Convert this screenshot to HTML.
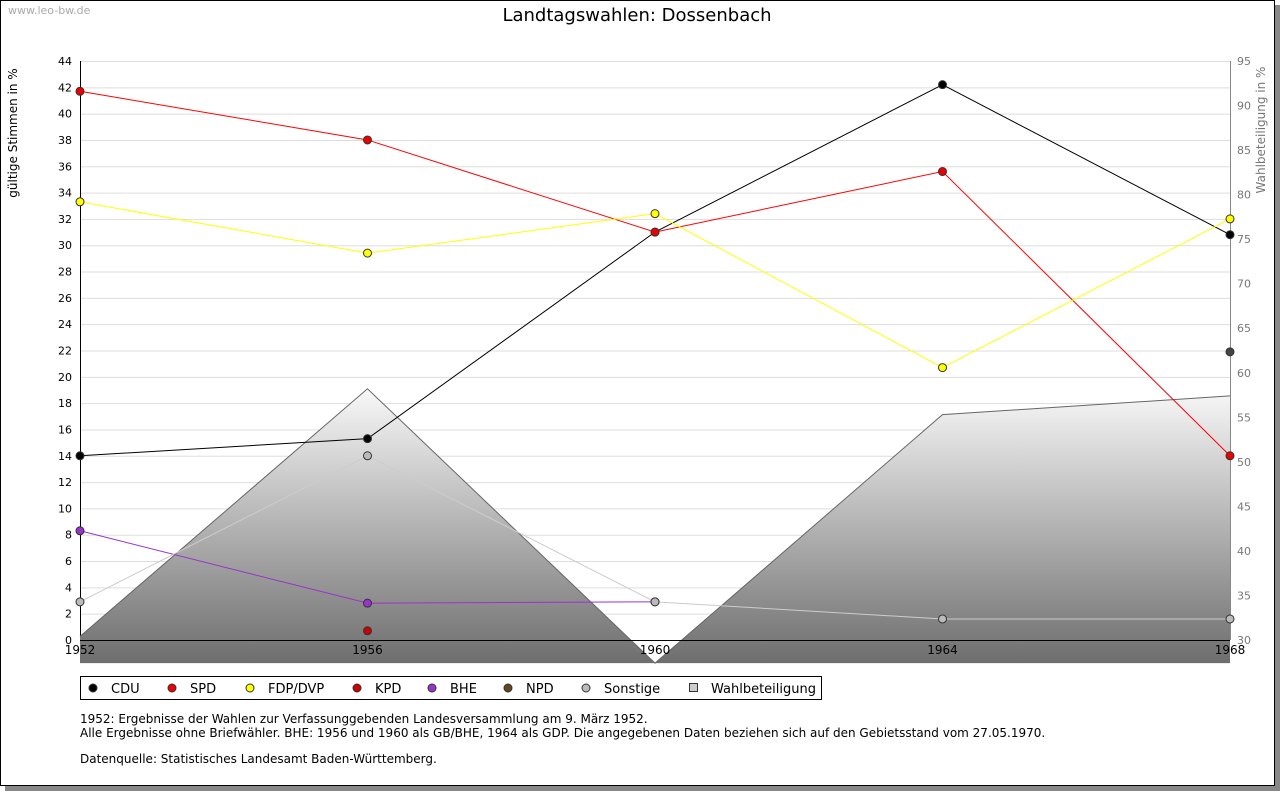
<!DOCTYPE html>
<html><head><meta charset="utf-8"><style>
body{margin:0;background:#fff;font-family:"DejaVu Sans",sans-serif;}
</style></head><body>
<svg id="c" width="1280" height="791" xmlns="http://www.w3.org/2000/svg" font-family="DejaVu Sans, sans-serif">
<defs><linearGradient id="g" gradientUnits="userSpaceOnUse" x1="0" y1="389" x2="0" y2="663"><stop offset="0" stop-color="#f8f8f8"/><stop offset="1" stop-color="#6e6e6e"/></linearGradient></defs>
<rect x="5" y="5" width="1275" height="786" fill="#888"/>
<rect x="0.5" y="0.5" width="1274" height="785" fill="#fff" stroke="#000"/>
<text x="8" y="14" font-size="11" fill="#aaa">www.leo-bw.de</text>
<text x="637" y="21" font-size="18" text-anchor="middle">Landtagswahlen: Dossenbach</text>
<text transform="translate(17,133) rotate(-90)" font-size="12" text-anchor="middle">gültige Stimmen in %</text>
<text transform="translate(1265,130) rotate(-90)" font-size="12" fill="#777" text-anchor="middle">Wahlbeteiligung in %</text>
<g id="grid"></g><g id="area"></g><g id="lines"></g>
<rect x="80.5" y="676.5" width="741" height="23" fill="#fff" stroke="#000"/>
<g id="legend"></g>
<text x="80" y="723" font-size="12">1952: Ergebnisse der Wahlen zur Verfassunggebenden Landesversammlung am 9. März 1952.</text>
<text x="80" y="737" font-size="12">Alle Ergebnisse ohne Briefwähler. BHE: 1956 und 1960 als GB/BHE, 1964 als GDP. Die angegebenen Daten beziehen sich auf den Gebietsstand vom 27.05.1970.</text>
<text x="80" y="763" font-size="12">Datenquelle: Statistisches Landesamt Baden-Württemberg.</text>
</svg>
<script>
const years=[1952,1956,1960,1964,1968];
const turnout=[30.4,58.2,27.4,55.3,57.4];
const cdu=[14.0,15.3,31.0,42.2,30.8];
const spd=[41.7,38.0,31.0,35.6,14.0];
const fdp=[33.3,29.4,32.4,20.7,32.0];
const kpd=[null,0.7,null,null,null];
const bhe=[8.3,2.8,2.9,null,null];
const npd=[null,null,null,null,21.9];
const sonst=[2.9,14.0,2.9,1.6,1.6];
const leftTicks=[0,2,4,6,8,10,12,14,16,18,20,22,24,26,28,30,32,34,36,38,40,42,44];
const rightTicks=[30,35,40,45,50,55,60,65,70,75,80,85,90,95];
const X=y=>80+(y-1952)/16*1150;
const Y=v=>640-v*579/44;
const Y2=v=>640-(v-30)*579/65;
const NS='http://www.w3.org/2000/svg';
function mk(t,a,p){const e=document.createElementNS(NS,t);for(const k in a)e.setAttribute(k,a[k]);p.appendChild(e);return e;}
const grid=document.getElementById('grid');
leftTicks.forEach(v=>{
 const l=mk('line',{x1:80,x2:1230,y1:Y(v)+.5,y2:Y(v)+.5,stroke:v===0?'#000':'#ddd'},grid);
 
 
 const t=mk('text',{x:72,y:Y(v)+4,'font-size':11,'text-anchor':'end'},grid);t.textContent=v;
 
 
});
rightTicks.forEach(v=>{
 const t=mk('text',{x:1237,y:Y2(v)+4,'font-size':11,fill:'#777'},grid);t.textContent=v;
 
 
});
mk('line',{x1:80.5,x2:80.5,y1:61,y2:640,stroke:'#000'},grid);
mk('line',{x1:1230.5,x2:1230.5,y1:61,y2:640,stroke:'#888'},grid);
const area=document.getElementById('area');
const base=Math.min(...turnout);
let d='M'+X(years[0])+','+Y2(base);
years.forEach((y,i)=>d+=' L'+X(y)+','+Y2(turnout[i]));
d+=' L'+X(years[4])+','+Y2(base)+' Z';
const ap=mk('path',{d:d,fill:'url(#g)'},area);


let ld='';years.forEach((y,i)=>ld+=(i?' L':'M')+X(y)+','+Y2(turnout[i]));
mk('path',{d:ld,fill:'none',stroke:'#666'},area);
mk('line',{x1:80,x2:1230,y1:640.5,y2:640.5,stroke:'#000'},area);
years.forEach(y=>{const t=mk('text',{x:X(y),y:654,'font-size':12,'text-anchor':'middle'},area);t.textContent=y;
 
 });
const series=[['cdu',cdu,'#000','#000'],['spd',spd,'#f00','#e00'],['fdp',fdp,'#ff0','#ff0'],['kpd',kpd,'#c00','#c00'],['bhe',bhe,'#93c','#93c'],['npd',npd,'#642','#444'],['sonstige',sonst,'#ccc','#bbb']];
const lines=document.getElementById('lines');
series.forEach(([n,vals,col,fill])=>{
 let p='',started=false;
 vals.forEach((v,i)=>{if(v===null){started=false;return;}p+=(started?' L':' M')+X(years[i])+','+Y(v);started=true;});
 const pl=mk('path',{d:p,fill:'none',stroke:col},lines);
 
 
});
series.forEach(([n,vals,col,fill])=>{
 vals.forEach((v,i)=>{if(v===null)return;
  const c=mk('circle',{cx:X(years[i]),cy:Y(v),r:4,fill:fill,stroke:'#333'},lines);
  
  
 });
});
const leg=document.getElementById('legend');
const items=[['CDU','#000',93],['SPD','#e00',172],['FDP/DVP','#ff0',250],['KPD','#c00',357],['BHE','#93c',432],['NPD','#642',508],['Sonstige','#bbb',586]];
items.forEach(([l,c,x])=>{
 mk('circle',{cx:x,cy:688,r:4,fill:c,stroke:'#333'},leg);
 const t=mk('text',{x:x+18,y:693,'font-size':13},leg);t.textContent=l;
 
 
});
mk('rect',{x:689.5,y:683.5,width:8,height:8,fill:'#ccc',stroke:'#333'},leg);
const tw=mk('text',{x:711,y:693,'font-size':13},leg);tw.textContent='Wahlbeteiligung';


</script>
</body></html>
